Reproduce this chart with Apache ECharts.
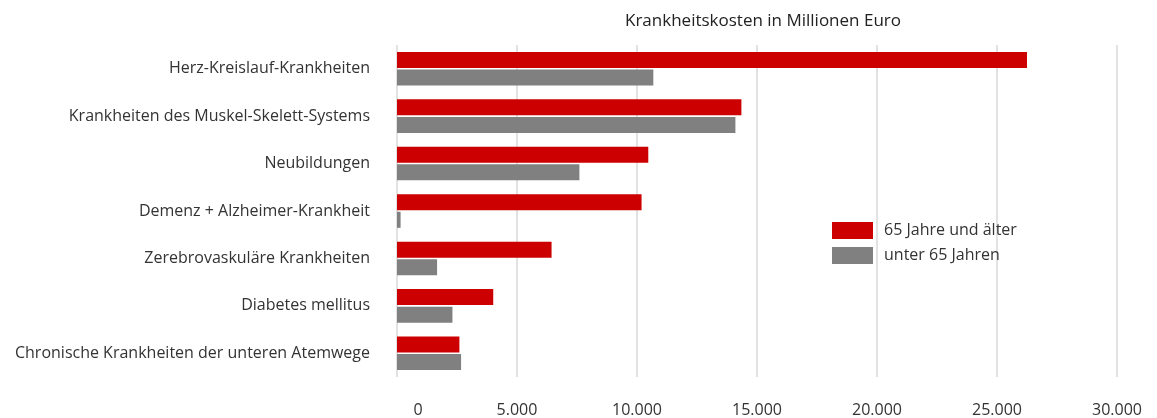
<!DOCTYPE html>
<html>
<head>
<meta charset="utf-8">
<script src="https://cdn.jsdelivr.net/npm/echarts@6/dist/echarts.min.js"></script>
<style>
html,body{margin:0;padding:0;background:#fff;}
#chart{width:1157px;height:418px;}
</style>
</head>
<body>
<div id="chart"></div>
<script>
const categories = [
  'Herz-Kreislauf-Krankheiten',
  'Krankheiten des Muskel-Skelett-Systems',
  'Neubildungen',
  'Demenz + Alzheimer-Krankheit',
  'Zerebrovaskuläre Krankheiten',
  'Diabetes mellitus',
  'Chronische Krankheiten der unteren Atemwege'
];
const seriesNames = ['65 Jahre und älter', 'unter 65 Jahren'];
const older = [26250, 14350, 10470, 10190, 6440, 4010, 2600];
const younger = [10680, 14100, 7600, 150, 1670, 2310, 2670];
const titleText = 'Krankheitskosten in Millionen Euro';

const fontFamily = '"Open Sans", "Liberation Sans", Arial, sans-serif';
const chart = echarts.init(document.getElementById('chart'));
chart.setOption({
  animation: false,
  textStyle: { fontFamily: fontFamily },
  title: {
    text: titleText,
    left: 758,
    top: 8,
    textAlign: 'center',
    textStyle: { fontSize: 17, fontWeight: 'normal', color: '#222', fontFamily: fontFamily }
  },
  legend: {
    orient: 'vertical',
    left: 827,
    top: 217,
    itemWidth: 41,
    itemHeight: 17,
    itemGap: 8,
    icon: 'rect',
    textStyle: { fontSize: 16, color: '#333', padding: [0, 0, 0, 6], fontFamily: fontFamily },
    data: seriesNames
  },
  grid: { left: 397, right: 40, top: 45, bottom: 41, containLabel: false, outerBoundsMode: 'none' },
  xAxis: {
    type: 'value',
    min: 0,
    max: 30000,
    interval: 5000,
    axisLine: { show: false },
    axisTick: { show: false },
    splitLine: { show: true, lineStyle: { color: '#e2e2e2', width: 2 } },
    axisLabel: {
      margin: 25,
      fontSize: 16,
      color: '#333',
      fontFamily: fontFamily,
      formatter: function (v) {
        if (v === 0) return '{z|0}';
        return String(v).replace(/\B(?=(\d{3})+(?!\d))/g, '.');
      },
      rich: { z: { fontSize: 16, color: '#333', fontFamily: fontFamily, padding: [0, 0, 0, 42] } }
    }
  },
  yAxis: {
    type: 'category',
    inverse: true,
    data: categories,
    axisLine: { show: false },
    axisTick: { show: false },
    axisLabel: { margin: 27, fontSize: 16, color: '#333', fontFamily: fontFamily, padding: [3, 0, 0, 0] }
  },
  series: [
    {
      name: seriesNames[0],
      type: 'bar',
      data: older,
      barWidth: 16,
      barGap: '10%',
      itemStyle: { color: '#cc0000' }
    },
    {
      name: seriesNames[1],
      type: 'bar',
      data: younger,
      barWidth: 16,
      barGap: '10%',
      itemStyle: { color: '#808080' }
    }
  ]
});
</script>
</body>
</html>
